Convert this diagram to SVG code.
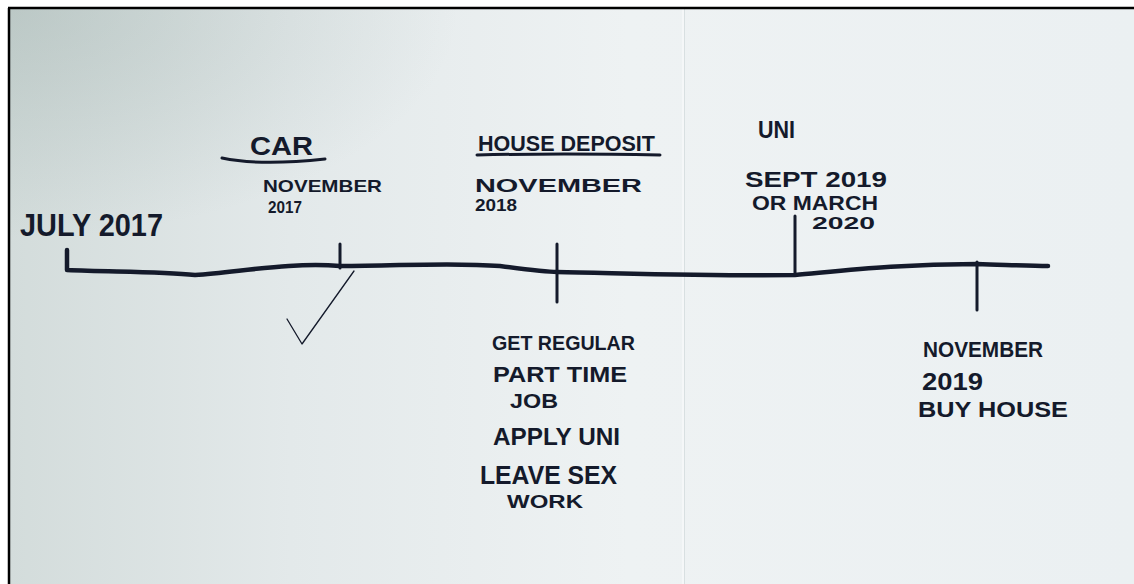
<svg xmlns="http://www.w3.org/2000/svg" width="1134" height="584" viewBox="0 0 1134 584">
  <defs>
    <linearGradient id="paper" x1="0" y1="0" x2="1" y2="0">
      <stop offset="0" stop-color="#d3dcdb"/>
      <stop offset="0.25" stop-color="#e3e9ea"/>
      <stop offset="0.55" stop-color="#eef2f3"/>
      <stop offset="1" stop-color="#ebf0f2"/>
    </linearGradient>
    <radialGradient id="vign" cx="0" cy="0" r="0.4" gradientUnits="objectBoundingBox">
      <stop offset="0" stop-color="#8fa39e" stop-opacity="0.35"/>
      <stop offset="1" stop-color="#8fa39e" stop-opacity="0"/>
    </radialGradient>
    <style>
      .ink { fill: #141a2b; font-family: "Liberation Sans", Arial, sans-serif; font-weight: bold; }
      .line { fill: none; stroke: #141a2b; stroke-linecap: round; stroke-linejoin: round; }
      .main { stroke-width: 4.5; }
      .tick { stroke-width: 3; }
      .thin { stroke-width: 1.3; }
    </style>
  </defs>

  <rect x="0" y="0" width="1134" height="584" fill="#ffffff"/>
  <rect x="9" y="8" width="1125" height="576" fill="url(#paper)"/>
  <rect x="9" y="8" width="1125" height="576" fill="url(#vign)"/>
  <line x1="683" y1="9" x2="683" y2="584" stroke="#ffffff" stroke-opacity="0.7" stroke-width="1.2"/>
  <line x1="684.5" y1="9" x2="684.5" y2="584" stroke="#c9d3d5" stroke-opacity="0.6" stroke-width="1"/>
  <path d="M8 8 H1134 M9 8 V584" fill="none" stroke="#000000" stroke-width="2.5"/>

  <g id="connectors">
    <path class="line main" d="M67 250 L67 270 C110 272 160 271 195 275 C240 272 290 262 340 266 C400 266 450 262 500 266 C530 270 545 272 557 272 C620 273 700 276 795 275 C850 270 900 264 977 264 C1010 265 1030 266 1048 266"/>
    <path class="line tick" d="M340 244 L340 268"/>
    <path class="line tick" d="M557 244 L557 302"/>
    <path class="line tick" d="M795 216 L795 275"/>
    <path class="line tick" d="M977 262 L977 310"/>
    <path class="line thin" d="M287 319 L302 344 L354 271"/>
  </g>

  <g id="node-july-2017">
    <text class="ink" x="20" y="236" font-size="32" textLength="143" lengthAdjust="spacingAndGlyphs">JULY 2017</text>
  </g>

  <g id="node-car">
    <text class="ink" x="250" y="155" font-size="26" textLength="63" lengthAdjust="spacingAndGlyphs">CAR</text>
    <path class="line" stroke-width="3" d="M222 158 Q260 166 325 159"/>
    <text class="ink" x="263" y="192" font-size="17" textLength="119" lengthAdjust="spacingAndGlyphs">NOVEMBER</text>
    <text class="ink" x="268" y="213" font-size="17" textLength="34" lengthAdjust="spacingAndGlyphs">2017</text>
  </g>

  <g id="node-house-deposit">
    <text class="ink" x="478" y="151" font-size="22" textLength="177" lengthAdjust="spacingAndGlyphs">HOUSE DEPOSIT</text>
    <path class="line" stroke-width="3" d="M477 155 Q560 153 660 155"/>
    <text class="ink" x="475" y="192" font-size="18" textLength="167" lengthAdjust="spacingAndGlyphs">NOVEMBER</text>
    <text class="ink" x="475" y="211" font-size="16" textLength="42" lengthAdjust="spacingAndGlyphs">2018</text>
  </g>

  <g id="node-nov-2018-goals">
    <text class="ink" x="492" y="350" font-size="21" textLength="143" lengthAdjust="spacingAndGlyphs">GET REGULAR</text>
    <text class="ink" x="493" y="382" font-size="22" textLength="134" lengthAdjust="spacingAndGlyphs">PART TIME</text>
    <text class="ink" x="510" y="408" font-size="20" textLength="48" lengthAdjust="spacingAndGlyphs">JOB</text>
    <text class="ink" x="493" y="445" font-size="24" textLength="127" lengthAdjust="spacingAndGlyphs">APPLY UNI</text>
    <text class="ink" x="480" y="484" font-size="26" textLength="137" lengthAdjust="spacingAndGlyphs">LEAVE SEX</text>
    <text class="ink" x="507" y="508" font-size="18" textLength="76" lengthAdjust="spacingAndGlyphs">WORK</text>
  </g>

  <g id="node-uni">
    <text class="ink" x="758" y="138" font-size="24" textLength="37" lengthAdjust="spacingAndGlyphs">UNI</text>
    <text class="ink" x="745" y="187" font-size="22" textLength="142" lengthAdjust="spacingAndGlyphs">SEPT 2019</text>
    <text class="ink" x="752" y="210" font-size="20" textLength="126" lengthAdjust="spacingAndGlyphs">OR MARCH</text>
    <text class="ink" x="812" y="229" font-size="16" textLength="63" lengthAdjust="spacingAndGlyphs">2020</text>
  </g>

  <g id="node-buy-house">
    <text class="ink" x="923" y="357" font-size="22" textLength="120" lengthAdjust="spacingAndGlyphs">NOVEMBER</text>
    <text class="ink" x="922" y="390" font-size="24" textLength="61" lengthAdjust="spacingAndGlyphs">2019</text>
    <text class="ink" x="918" y="417" font-size="22" textLength="150" lengthAdjust="spacingAndGlyphs">BUY HOUSE</text>
  </g>
</svg>
